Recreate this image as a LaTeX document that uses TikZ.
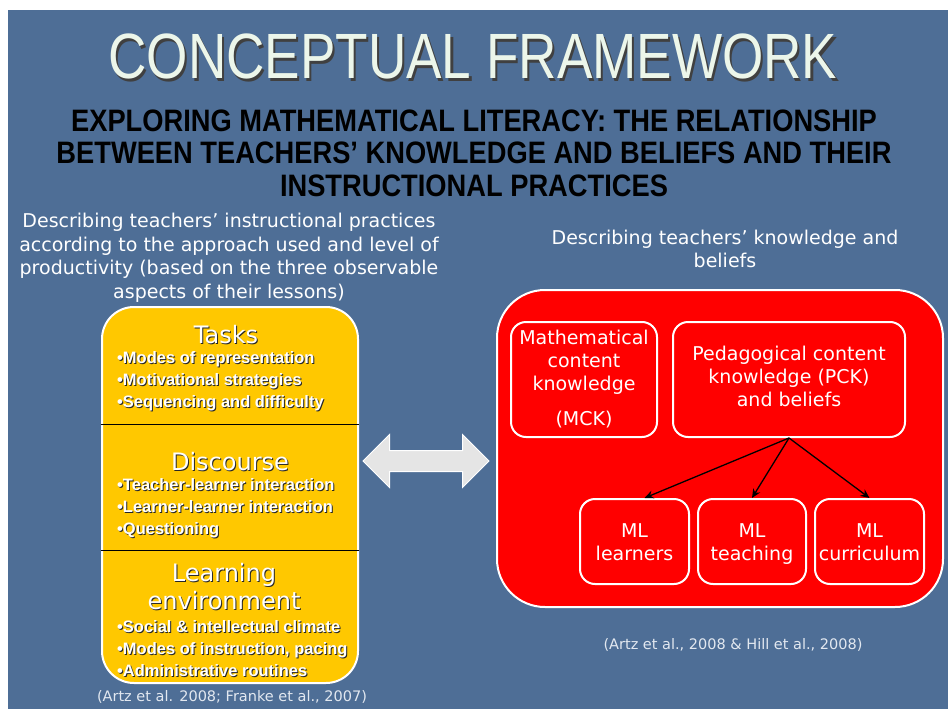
\documentclass[tikz,border=0pt]{standalone}
\usepackage{fontspec}
\setmainfont{DejaVu Sans}
\newfontfamily\arialfont{Liberation Sans}
\usepackage{xcolor}
\usetikzlibrary{arrows,arrows.meta,shapes,positioning}

\definecolor{slideblue}{RGB}{78,110,150}
\definecolor{taskgold}{RGB}{255,200,0}
\definecolor{knowred}{RGB}{255,0,0}
\definecolor{titlepale}{RGB}{236,246,234}
\definecolor{notegray}{RGB}{226,232,240}

\newcommand{\emb}[1]{\rlap{\kern1pt\raisebox{-1pt}{\color{black!85}#1}}#1}
\newcommand{\ttlshadow}[1]{\rlap{\kern2.5pt\raisebox{-2.5pt}{\color{black!75}#1}}#1}
\newcommand{\topstrut}{\rule{0pt}{21pt}}

\begin{document}
\begin{tikzpicture}[x=1pt, y=-1pt, >={Stealth[length=9pt,width=8pt]}, inner sep=0pt,
  hdr/.style={text=white, align=center, font=\fontsize{19}{23.5}\selectfont},
  box/.style={draw=white, line width=2pt, fill=knowred, rounded corners=15pt, text=white, align=center, font=\fontsize{19}{23}\selectfont},
  sect/.style={text=white, align=center, font=\fontsize{24}{28}\selectfont},
  items/.style={text=white, align=left, anchor=west, font=\arialfont\bfseries\fontsize{16.5}{22}\selectfont},
  note/.style={text=notegray, font=\fontsize{14.5}{17}\selectfont}]

\fill[white] (0,0) rectangle (948,709);
\fill[slideblue] (8,10) rectangle (948,709);

\node (title) at (473,58) [text=titlepale, font=\arialfont\fontsize{64}{64}\selectfont, xscale=0.83, transform shape] {\ttlshadow{CONCEPTUAL FRAMEWORK}};
\node (sub) at (474,153) [align=center, font=\arialfont\bfseries\fontsize{31}{32.5}\selectfont, xscale=0.88, transform shape] {EXPLORING MATHEMATICAL LITERACY: THE RELATIONSHIP\\BETWEEN TEACHERS’ KNOWLEDGE AND BELIEFS AND THEIR\\INSTRUCTIONAL PRACTICES};

\node (lhead) at (229,258) [hdr] {Describing teachers’ instructional practices\\according to the approach used and level of\\productivity (based on the three observable\\aspects of their lessons)};
\node (rhead) at (725,249) [hdr] {Describing teachers’ knowledge and\\beliefs};

\node (yel) at (230,495) [draw=white, line width=2pt, fill=taskgold, rounded corners=32pt, minimum width=256pt, minimum height=376pt] {};
\draw[black, line width=1pt] (yel.west |- 0,424) -- (yel.east |- 0,424);
\draw[black, line width=1pt] (yel.west |- 0,550) -- (yel.east |- 0,550);

\node (tasks) at (226,335) [sect] {\emb{Tasks}};
\node (tasklist) at (117,382) [items] {\emb{•Modes of representation}\\\emb{•Motivational strategies}\\\emb{•Sequencing and difficulty}};
\node (disc) at (230,462) [sect] {\emb{Discourse}};
\node (disclist) at (117,509) [items] {\emb{•Teacher-learner interaction}\\\emb{•Learner-learner interaction}\\\emb{•Questioning}};
\node (env) at (224,587) [sect] {\emb{Learning}\\\emb{environment}};
\node (envlist) at (117,649) [items] {\emb{•Social \& intellectual climate}\\\emb{•Modes of instruction, pacing}\\\emb{•Administrative routines}};

\node (link) at (426,461) [double arrow, draw=white, line width=1pt, fill=gray!20, inner sep=10pt, double arrow head extend=16pt, minimum height=126pt] {};

\node (know) at (720,448.5) [box, rounded corners=48pt, minimum width=446pt, minimum height=317pt] {};
\node (mck) at (584,379.5) [box, minimum width=146pt, minimum height=115pt] {Mathematical\\content\\knowledge\\[12pt](MCK)};
\node (pck) at (789,379.5) [box, minimum width=232pt, minimum height=115pt] {Pedagogical content\\knowledge (PCK)\\and beliefs\strut};

\node (learn) at (634.5,541.5) [box, minimum width=109pt, minimum height=85pt] {\topstrut ML\\learners\strut};
\node (teach) [box, right=7pt of learn, minimum width=108pt, minimum height=85pt] {\topstrut ML\\teaching\strut};
\node (curr) [box, right=7pt of teach, minimum width=109pt, minimum height=85pt] {\topstrut ML\\curriculum\strut};

\draw[->, line width=1.3pt] (pck.south) -- ([xshift=10pt]learn.north);
\draw[->, line width=1.3pt] (pck.south) -- (teach.north);
\draw[->, line width=1.3pt] (pck.south) -- (curr.north);

\node (lnote) at (232,697) [note] {(Artz et al. 2008; Franke et al., 2007)};
\node (rnote) at (733,645) [note] {(Artz et al., 2008 \& Hill et al., 2008)};
\end{tikzpicture}
\end{document}
